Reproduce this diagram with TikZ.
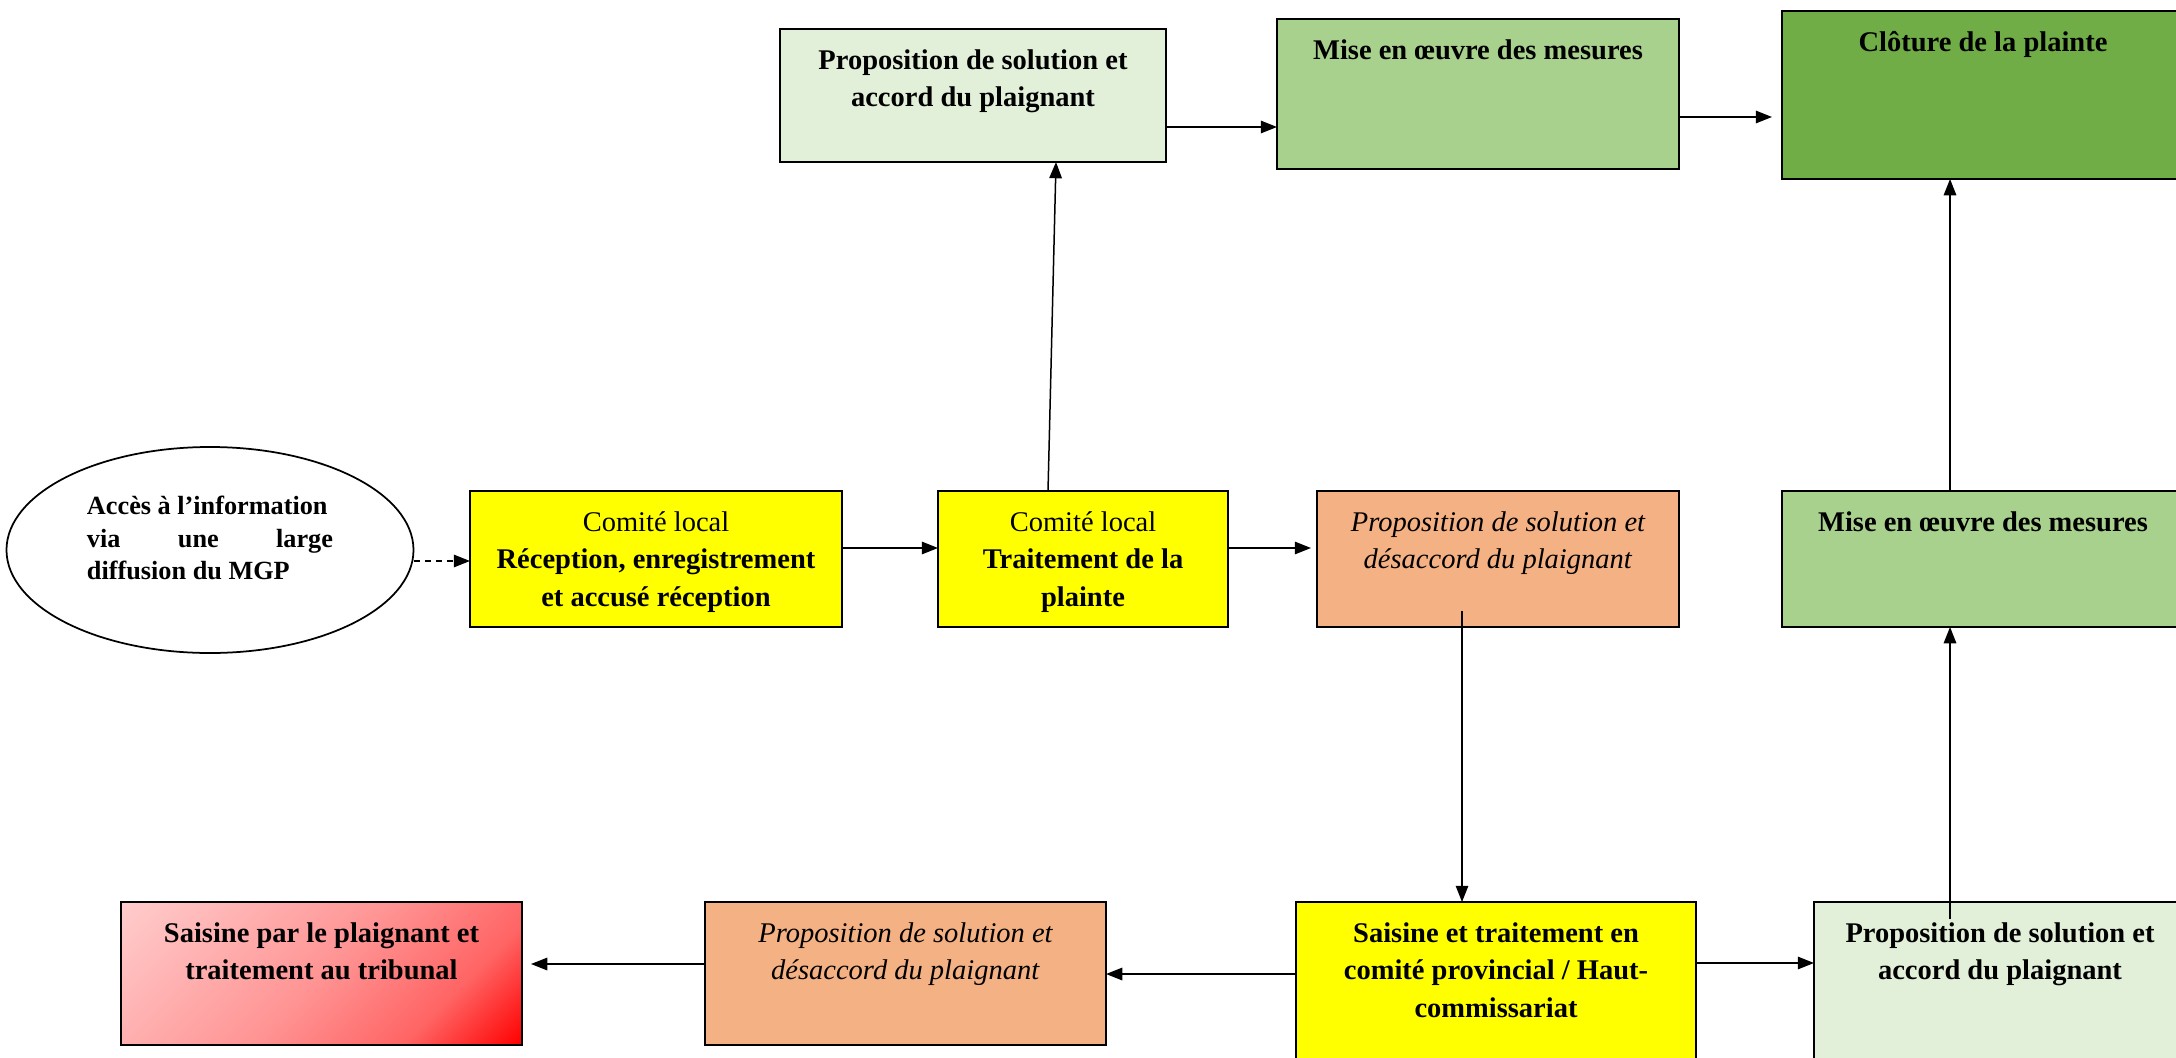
\documentclass[tikz,border=0pt]{standalone}
\usepackage{fontspec}
\setmainfont{Liberation Serif}
\usetikzlibrary{arrows.meta,calc,shapes.geometric}
\definecolor{cyel}{HTML}{FFFF00}
\definecolor{clgreen}{HTML}{E2EFD9}
\definecolor{cmgreen}{HTML}{A9D18E}
\definecolor{cdgreen}{HTML}{70AD47}
\definecolor{corange}{HTML}{F4B183}
\definecolor{cpink}{HTML}{FFCCCC}
\definecolor{cred}{HTML}{FF0000}
\definecolor{cr1}{HTML}{FF6464}
\definecolor{cr2}{HTML}{FF9494}
\definecolor{cr3}{HTML}{FFB4B4}
\pgfdeclareverticalshading{redgrad}{100bp}{color(0bp)=(cred); color(14.65bp)=(cred); color(30bp)=(cr1); color(50bp)=(cr2); color(70bp)=(cr3); color(85.35bp)=(cpink); color(100bp)=(cpink)}
\setlength{\parindent}{0pt}
\newcommand{\bxt}[3]{\parbox[c][\dimexpr #2pt*2/5\relax][t]{\dimexpr #1pt*2/5\relax}{\centering\fontsize{11.4}{15}\selectfont\vspace*{5.6pt}\strut #3\par}}
\begin{document}
\begin{tikzpicture}[x=0.4pt,y=-0.4pt,
  box/.style={draw, line width=0.7pt, rectangle, inner sep=0pt, outer sep=0pt},
  conn/.style={line width=0.6pt, -{Triangle[length=6.5pt,width=5pt]}}]
\useasboundingbox (0,0) rectangle (2176,1058);
\clip (0,0) rectangle (2176,1058);
\fill[white] (0,0) rectangle (2176,1058);

% ellipse
\node[ellipse, draw, line width=0.7pt, minimum width=162.8pt, minimum height=82.4pt, inner sep=0pt] (ell) at (210,550) {};
\node[inner sep=0pt] (elltext) at (210,538) {\parbox{98.4pt}{\bfseries\fontsize{10.5}{13}\selectfont Accès à l’information\\ via\hfill une\hfill large\\ diffusion du MGP}};

% middle row
\node[box, fill=cyel] (b1) at (656,559) {\bxt{372}{136}{Comité local\\\textbf{Réception, enregistrement\\et accusé réception}}};
\node[box, fill=cyel] (b2) at (1083,559) {\bxt{290}{136}{Comité local\\\textbf{Traitement de la\\plainte}}};
\node[box, fill=corange] (b3) at (1498,559) {\bxt{362}{136}{\textit{Proposition de solution et\\désaccord du plaignant}}};
\node[box, fill=cmgreen] (b4) at (1983,559) {\bxt{402}{136}{\textbf{Mise en œuvre des mesures}}};

% top row
\node[box, fill=clgreen] (A) at (973,95.5) {\bxt{386}{133}{\textbf{Proposition de solution et\\accord du plaignant}}};
\node[box, fill=cmgreen] (B) at (1478,94) {\bxt{402}{150}{\textbf{Mise en œuvre des mesures}}};
\node[box, fill=cdgreen] (C) at (1983,95) {\bxt{402}{168}{\textbf{Clôture de la plainte}}};

% bottom row
\node[box, shading=redgrad, shading angle=45] (T) at (321.5,973.5) {\bxt{401}{143}{\textbf{Saisine par le plaignant et\\traitement au tribunal}}};
\node[box, fill=corange] (O2) at (905.5,973.5) {\bxt{401}{143}{\textit{Proposition de solution et\\désaccord du plaignant}}};
\node[box, fill=cyel] (Y2) at (1496,986) {\bxt{400}{168}{\textbf{Saisine et traitement en\\comité provincial / Haut-\\commissariat}}};
\node[box, fill=clgreen] (G2) at (2000,986) {\bxt{372}{168}{\textbf{Proposition de solution et\\accord du plaignant}}};

% connectors
\draw[conn, dash pattern=on 2.4pt off 2pt] ($(ell.east)+(0,11)$) -- ($(b1.west)+(0,2)$);
\draw[conn] ($(b1.east)+(0,-11)$) -- ($(b2.west)+(0,-11)$);
\draw[conn] ($(b2.north west)+(110,0)$) -- ($(A.south west)+(276,0)$);
\draw[conn] ($(A.east)+(0,31.5)$) coordinate (ab) -- (ab -| B.west);
\draw[conn] ($(B.east)+(0,23)$) -- ($(C.west)+(-10,22)$);
\draw[conn] ($(b2.east)+(0,-11)$) -- ($(b3.west)+(-6,-11)$);
\coordinate (s3) at ($(b3.south west)+(145,-16)$);
\draw[conn] (s3) -- (s3 |- Y2.north);
\draw[conn] ($(Y2.east)+(0,-23)$) -- ($(G2.west)+(0,-23)$);
\coordinate (s4) at ($(G2.north west)+(136,17)$);
\draw[conn] (s4) -- (s4 |- b4.south);
\draw[conn] ($(b4.north west)+(168,0)$) -- ($(C.south west)+(168,0)$);
\draw[conn] ($(Y2.west)+(0,-12)$) coordinate (yo) -- (yo -| O2.east);
\draw[conn] ($(O2.west)+(0,-9.5)$) -- ($(T.east)+(9,-9.5)$);
\end{tikzpicture}
\end{document}
